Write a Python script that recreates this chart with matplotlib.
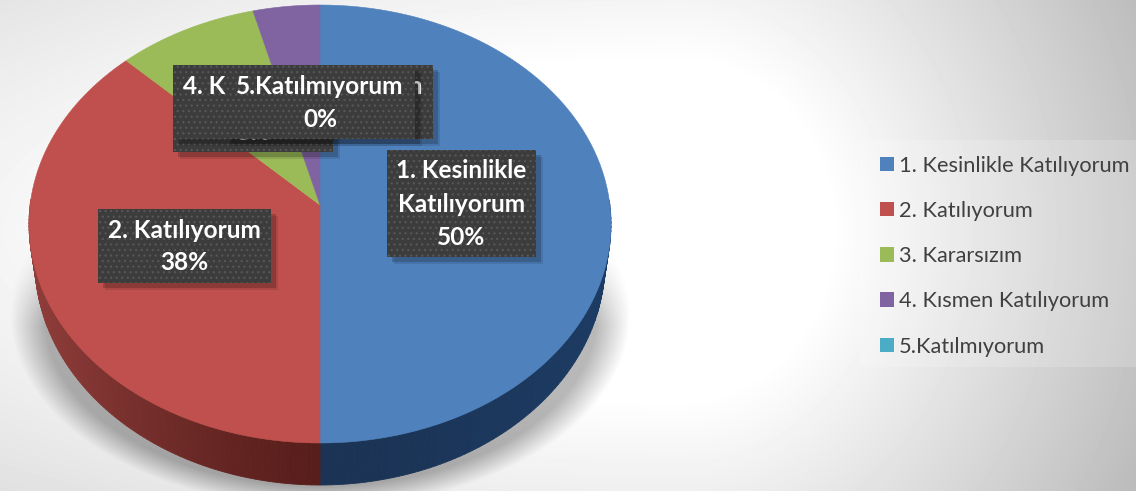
import numpy as np
import matplotlib
matplotlib.use("Agg")
import matplotlib.pyplot as plt
from matplotlib.colors import to_rgb
from matplotlib.path import Path
from matplotlib.patches import Rectangle, Polygon

categories = ["1. Kesinlikle Katılıyorum", "2. Katılıyorum", "3. Kararsızım",
              "4. Kısmen Katılıyorum", "5.Katılmıyorum"]
values = [50, 38.4, 7.9, 3.7, 0]
colors = ["#4f81bd", "#c0504d", "#9bbb59", "#8064a2", "#4bacc6"]
wall_colors = {0: ("#1c3b63", "#1b3354"), 1: ("#8f3d3a", "#581e1b")}

W, H = 1136, 491
CX, APEX_Y = 320, 205
TOP_CY, TOP_RX, TOP_RY = 224, 291, 219
BOT_CY, BOT_RX, BOT_RY = 262, 285, 223
plt.rcParams["font.family"] = ["Lato", "DejaVu Sans"]
plt.rcParams["hatch.linewidth"] = 0.9
fig = plt.figure(figsize=(W / 100, H / 100), dpi=100)

# background
bg = fig.add_axes([0, 0, 1, 1], zorder=0)
bg.axis("off")
yy, xx = np.mgrid[0:H, 0:W]
dx = np.where(xx < 680, (xx - 680) * 0.3, xx - 680)
d = np.hypot(dx, (yy - 230) * 0.9)
grey = 1.0 - 0.26 * np.clip((d - 150) / 350, 0, 1.2)
sd = np.hypot((xx - CX) / 310, (yy - 315) / 192)
shadow = np.clip((1.0 - sd) / 0.11, 0, 1) * np.clip((yy - 235) / 90, 0, 1)
grey = grey - 0.28 * shadow
bg.imshow(np.clip(grey, 0, 1), cmap="gray", vmin=0, vmax=1, extent=(0, W, H, 0),
          aspect="auto", interpolation="bilinear")
bg.set_xlim(0, W); bg.set_ylim(H, 0)

# pie: the wedges come from ax.pie, then are tilted into the reference's perspective
ax = fig.add_axes([0, 0, 1, 1], zorder=1)
ax.patch.set_alpha(0)
wedges, _ = ax.pie(values, colors=colors, startangle=90, counterclock=False, radius=1,
                   wedgeprops={"linewidth": 0})


def tilt(p):
    r = np.minimum(np.hypot(p[:, 0], p[:, 1]), 1)
    return np.c_[CX + TOP_RX * p[:, 0], TOP_CY - TOP_RY * p[:, 1] - (TOP_CY - APEX_Y) * (1 - r)]


for w, v in zip(wedges, values):
    w.set_visible(False)
    if v <= 0:
        continue
    path = w.get_patch_transform().transform_path(w.get_path())
    pts = []
    for seg, code in path.iter_bezier():
        if code == Path.MOVETO:
            pts.append(seg.control_points[0])
        else:
            pts.extend(seg(np.linspace(0, 1, 24)))
    fc = w.get_facecolor()
    ax.add_patch(Polygon(tilt(np.array(pts)), closed=True, fc=fc, ec=fc, lw=0.4, zorder=2))
ax.set_aspect("auto")
ax.set_xlim(0, W)
ax.set_ylim(H, 0)

# side wall built from the same slice shares
fractions = np.array(values, float) / sum(values)
start = 0.0
for i, f in enumerate(fractions):
    if i in wall_colors and f > 0:
        th = np.linspace(start, start + f, 160) * 2 * np.pi
        c0, c1 = (np.array(to_rgb(c)) for c in wall_colors[i])
        for a, b in zip(th[:-1], th[1:]):
            if np.cos(a) > 0.1 and np.cos(b) > 0.1:
                continue
            t = abs(np.sin(a)) ** 1.3
            col = c1 * (1 - t) + c0 * t
            ax.add_patch(Polygon(
                [(CX + TOP_RX * np.sin(a), TOP_CY - TOP_RY * np.cos(a)),
                 (CX + TOP_RX * np.sin(b), TOP_CY - TOP_RY * np.cos(b)),
                 (CX + BOT_RX * np.sin(b), BOT_CY - BOT_RY * np.cos(b)),
                 (CX + BOT_RX * np.sin(a), BOT_CY - BOT_RY * np.cos(a))],
                closed=True, fc=col, ec=col, lw=0.6, zorder=0.5))
    start += f

# overlay in pixel coordinates
ov = fig.add_axes([0, 0, 1, 1], zorder=2)
ov.set_xlim(0, W); ov.set_ylim(H, 0); ov.axis("off"); ov.patch.set_alpha(0)
ov.add_patch(Rectangle((860, 140), 276, 227, fc="white", alpha=0.17, lw=0))


def label(x0, y0, x1, y1, text_lines, z):
    for off, alpha in ((7, 0.10), (5, 0.18)):
        ov.add_patch(Rectangle((x0 + off, y0 + off), x1 - x0, y1 - y0, fc="black", alpha=alpha,
                               lw=0, zorder=z))
    ov.add_patch(Rectangle((x0, y0), x1 - x0, y1 - y0, fc="#3c3c3c", ec="#565656", hatch="...",
                           lw=0, zorder=z + 0.1))
    n = len(text_lines)
    cy = (y0 + y1) / 2 + 0.5
    for k, s in enumerate(text_lines):
        ov.text((x0 + x1) / 2, cy + (k - (n - 1) / 2) * 33, s, color="white", fontweight="bold",
                fontsize=17.6, ha="center", va="center", zorder=z + 0.2)


pct = [f"{round(v)}%" for v in values]
label(173, 78, 333, 152, [categories[2], pct[2]], 3)
label(173, 65, 433, 139, [categories[3], pct[3]], 4)
label(225, 65, 415, 139, [categories[4], pct[4]], 5)
label(387, 150, 536, 257, ["1. Kesinlikle", "Katılıyorum", pct[0]], 6)
label(98, 209, 271, 283, [categories[1], pct[1]], 7)

handles = [Rectangle((0, 0), 1, 1, fc=c) for c in colors]
ov.legend(handles, categories, loc="upper left", bbox_to_anchor=(873, 149),
          bbox_transform=ov.transData, frameon=False, fontsize=15.7, labelcolor="#404040",
          handlelength=0.65, handleheight=0.65, handletextpad=0.25, labelspacing=1.16,
          borderpad=0.3, borderaxespad=0)

fig.savefig("out.png", dpi=100)
